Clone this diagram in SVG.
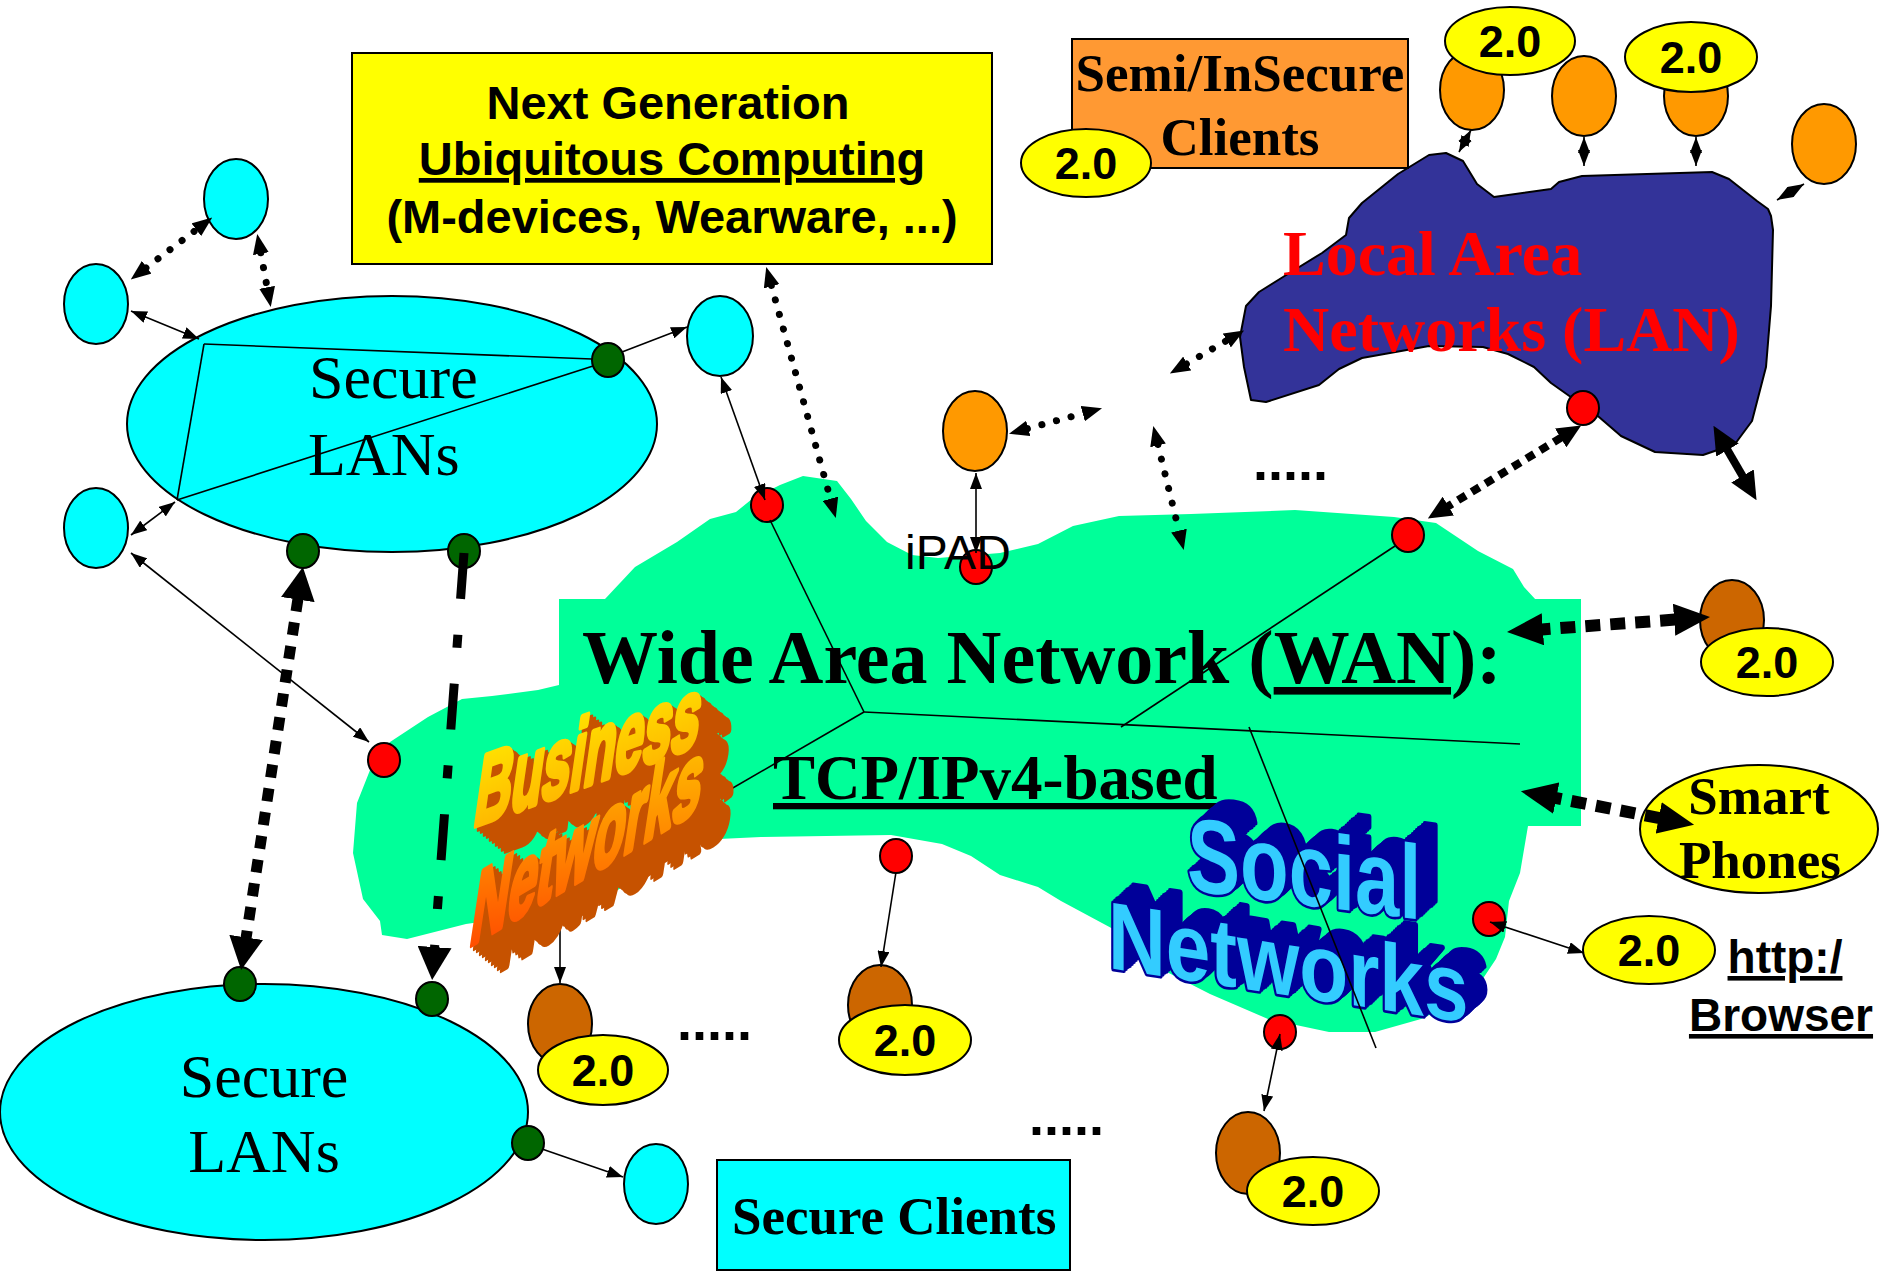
<svg xmlns="http://www.w3.org/2000/svg" width="1886" height="1272" viewBox="0 0 1886 1272">
<style>
.cy{fill:#00FFFF;stroke:#000;stroke-width:2}
.or{fill:#FF9900;stroke:#000;stroke-width:2}
.br{fill:#CC6600;stroke:#000;stroke-width:2}
.ye{fill:#FFFF00;stroke:#000;stroke-width:2}
.rd{fill:#FF0000;stroke:#000;stroke-width:2}
.gd{fill:#006600;stroke:#000;stroke-width:2}
.s{font-family:'Liberation Sans',Arial,sans-serif}
.t{font-family:'Liberation Serif','Times New Roman',serif}
.b{font-weight:bold}
.v{font-family:'Liberation Sans',Arial,sans-serif;font-weight:bold;font-size:45px;text-anchor:middle}
.m{text-anchor:middle}
.u{text-decoration:underline}
.ln{fill:none;stroke:#000;stroke-width:1.6}
.dt{fill:none;stroke:#000;stroke-width:7;stroke-linecap:round;stroke-dasharray:0.1 15}
.sq{fill:none;stroke:#000;stroke-width:8;stroke-dasharray:9 7}
.sqb{fill:none;stroke:#000;stroke-width:12;stroke-dasharray:15 10}
.thk{fill:none;stroke:#000;stroke-width:11;stroke-dasharray:13 11}
</style>
<defs>
<marker id="a1" viewBox="0 0 16 12" refX="16" refY="6" markerWidth="16" markerHeight="12" markerUnits="userSpaceOnUse" orient="auto-start-reverse"><path d="M0,0L16,6L0,12z"/></marker>
<marker id="a2" viewBox="0 0 20 16" refX="1" refY="8" markerWidth="20" markerHeight="16" markerUnits="userSpaceOnUse" orient="auto-start-reverse"><path d="M0,0L20,8L0,16z"/></marker>
<marker id="a3" viewBox="0 0 24 22" refX="1" refY="11" markerWidth="24" markerHeight="22" markerUnits="userSpaceOnUse" orient="auto-start-reverse"><path d="M0,0L24,11L0,22z"/></marker>
<marker id="a4" viewBox="0 0 36 32" refX="1" refY="16" markerWidth="36" markerHeight="32" markerUnits="userSpaceOnUse" orient="auto-start-reverse"><path d="M0,0L36,16L0,32z"/></marker>
<marker id="a5" viewBox="0 0 33 34" refX="1" refY="17" markerWidth="33" markerHeight="34" markerUnits="userSpaceOnUse" orient="auto-start-reverse"><path d="M0,0L33,17L0,34z"/></marker>
<marker id="a6" viewBox="0 0 28 26" refX="1" refY="13" markerWidth="28" markerHeight="26" markerUnits="userSpaceOnUse" orient="auto-start-reverse"><path d="M0,0L28,13L0,26z"/></marker>
<linearGradient id="gB" x1="0" y1="0" x2="0" y2="1"><stop offset="0" stop-color="#FFE800"/><stop offset="1" stop-color="#FFB000"/></linearGradient>
<linearGradient id="gN" x1="1" y1="0" x2="0" y2="1"><stop offset="0" stop-color="#FFD000"/><stop offset="1" stop-color="#FF4000"/></linearGradient>
<filter id="extO" x="-10%" y="-10%" width="135%" height="135%" color-interpolation-filters="sRGB">
<feOffset in="SourceAlpha" dx="3" dy="2.5" result="o1"/>
<feOffset in="SourceAlpha" dx="6" dy="5" result="o2"/>
<feOffset in="SourceAlpha" dx="9" dy="7.5" result="o3"/>
<feOffset in="SourceAlpha" dx="12" dy="10" result="o4"/>
<feOffset in="SourceAlpha" dx="15" dy="12.5" result="o5"/>
<feOffset in="SourceAlpha" dx="18" dy="15" result="o6"/>
<feOffset in="SourceAlpha" dx="21" dy="17.5" result="o7"/>
<feOffset in="SourceAlpha" dx="24" dy="20" result="o8"/>
<feOffset in="SourceAlpha" dx="27" dy="22.5" result="o9"/>
<feOffset in="SourceAlpha" dx="30" dy="25" result="o10"/>
<feMerge result="m"><feMergeNode in="o1"/><feMergeNode in="o2"/><feMergeNode in="o3"/><feMergeNode in="o4"/><feMergeNode in="o5"/><feMergeNode in="o6"/><feMergeNode in="o7"/><feMergeNode in="o8"/><feMergeNode in="o9"/><feMergeNode in="o10"/></feMerge>
<feFlood flood-color="#C65200"/>
<feComposite in2="m" operator="in" result="ext"/>
<feMerge><feMergeNode in="ext"/><feMergeNode in="SourceGraphic"/></feMerge>
</filter>
<filter id="extB" x="-10%" y="-25%" width="125%" height="135%" color-interpolation-filters="sRGB">
<feOffset in="SourceAlpha" dx="2" dy="-1.8" result="o1"/>
<feOffset in="SourceAlpha" dx="4" dy="-3.6" result="o2"/>
<feOffset in="SourceAlpha" dx="6" dy="-5.4" result="o3"/>
<feOffset in="SourceAlpha" dx="8" dy="-7.2" result="o4"/>
<feOffset in="SourceAlpha" dx="10" dy="-9" result="o5"/>
<feOffset in="SourceAlpha" dx="12" dy="-10.8" result="o6"/>
<feOffset in="SourceAlpha" dx="14" dy="-12.6" result="o7"/>
<feOffset in="SourceAlpha" dx="16" dy="-14.4" result="o8"/>
<feOffset in="SourceAlpha" dx="18" dy="-16.2" result="o9"/>
<feOffset in="SourceAlpha" dx="20" dy="-18" result="o10"/>
<feMerge result="m"><feMergeNode in="o1"/><feMergeNode in="o2"/><feMergeNode in="o3"/><feMergeNode in="o4"/><feMergeNode in="o5"/><feMergeNode in="o6"/><feMergeNode in="o7"/><feMergeNode in="o8"/><feMergeNode in="o9"/><feMergeNode in="o10"/></feMerge>
<feFlood flood-color="#000099"/>
<feComposite in2="m" operator="in" result="ext"/>
<feMerge><feMergeNode in="ext"/><feMergeNode in="SourceGraphic"/></feMerge>
</filter>
</defs>
<rect width="1886" height="1272" fill="#FFFFFF"/>

<g id="lan">
<path d="M1446,153 L1463,161 L1477,184 L1494,197 L1551,189 L1559,182 L1582,176 L1712,172 L1729,179 L1757,201 L1768,209 L1771,216 L1773,230 L1771,306 L1766,367 L1752,421 L1735,444 L1703,455 L1655,452 L1621,436 L1599,417 L1551,383 L1534,367 L1508,354 L1483,347 L1429,346 L1362,358 L1339,369 L1319,385 L1266,402 L1251,400 L1244,367 L1240,337 L1246,306 L1259,292 L1283,277 L1322,253 L1346,235 L1349,218 L1362,203 L1398,174 L1429,155 Z" fill="#333399" stroke="#000" stroke-width="2" stroke-linejoin="round"/>
<text class="t b" font-size="64" fill="#FF0000" x="1283" y="275">Local Area</text>
<text class="t b" font-size="64" fill="#FF0000" x="1283" y="351">Networks (LAN)</text>
</g>

<g id="wan">
<path d="M710,519 L736,512 L752,499 L780,485 L803,476 L837,481 L851,499 L866,521 L887,542 L912,555 L938,558 L1000,553 L1038,544 L1073,526 L1119,516 L1191,514 L1295,510 L1394,517 L1436,523 L1478,551 L1513,569 L1524,587 L1536,600 L1536,826 L1528,826 L1520,873 L1509,901 L1505,937 L1496,959 L1482,980 L1459,1001 L1421,1019 L1375,1032 L1329,1032 L1268,1019 L1210,994 L1161,969 L1115,930 L1061,901 L1038,887 L1000,875 L971,856 L942,844 L891,835 L761,837 L698,840 L592,906 L466,924 L407,939 L382,935 L380,921 L363,899 L353,853 L357,803 L374,760 L390,742 L428,717 L462,699 L492,696 L538,690 L559,685 L570,640 L605,599 L635,567 L677,542 Z" fill="#00FF99"/>
<rect x="559" y="599" width="1022" height="227" fill="#00FF99"/>
<text class="t b" font-size="76" x="582" y="683">Wide Area Network (<tspan class="u">WAN</tspan>):</text>
<text class="t b u" font-size="63" x="773" y="799">TCP/IPv4-based</text>
</g>

<g id="secure-lans-top">
<ellipse class="cy" cx="392" cy="424" rx="265" ry="128"/>
<text class="t" font-size="62" x="309" y="398">Secure</text>
<text class="t" font-size="62" x="308" y="475">LANs</text>
</g>
<g id="secure-lans-bottom">
<ellipse class="cy" cx="264" cy="1112" rx="264" ry="128"/>
<text class="t m" font-size="62" x="264" y="1097">Secure</text>
<text class="t m" font-size="62" x="264" y="1172">LANs</text>
</g>

<g id="social-networks" filter="url(#extB)">
<text class="s b" transform="matrix(0.78,0.099,0,1.03,1187,890)" font-size="102" fill="#33CCFF" stroke="#000099" stroke-width="5" paint-order="stroke" stroke-linejoin="round">Social</text>
<text class="s b" transform="matrix(0.88,0.134,0,1.05,1108,968)" font-size="91" fill="#33CCFF" stroke="#000099" stroke-width="5" paint-order="stroke" stroke-linejoin="round">Networks</text>
</g>

<g id="next-generation">
<rect x="352" y="53" width="640" height="211" fill="#FFFF00" stroke="#000" stroke-width="2"/>
<text class="s b m" font-size="47" x="668" y="119">Next Generation</text>
<text class="s b m u" font-size="47" x="672" y="175">Ubiquitous Computing</text>
<text class="s b m" font-size="47" x="672" y="233">(M-devices, Wearware, ...)</text>
</g>
<g id="semi-insecure">
<rect x="1072" y="39" width="336" height="129" fill="#FF9933" stroke="#000" stroke-width="2"/>
<text class="t b m" font-size="53" x="1240" y="91">Semi/InSecure</text>
<text class="t b m" font-size="53" x="1240" y="155">Clients</text>
</g>
<g id="secure-clients">
<rect x="717" y="1160" width="353" height="110" fill="#00FFFF" stroke="#000" stroke-width="2"/>
<text class="t b" font-size="53" x="732" y="1234">Secure Clients</text>
</g>

<g id="cyan-1"><ellipse class="cy" cx="236" cy="199" rx="32" ry="40"/></g>
<g id="cyan-2"><ellipse class="cy" cx="96" cy="304" rx="32" ry="40"/></g>
<g id="cyan-3"><ellipse class="cy" cx="96" cy="528" rx="32" ry="40"/></g>
<g id="cyan-4"><ellipse class="cy" cx="720" cy="336" rx="33" ry="40"/></g>
<g id="cyan-5"><ellipse class="cy" cx="656" cy="1184" rx="32" ry="40"/></g>

<g id="orange-1"><ellipse class="or" cx="1472" cy="90" rx="32" ry="40"/></g>
<g id="orange-2"><ellipse class="or" cx="1584" cy="96" rx="32" ry="40"/></g>
<g id="orange-3"><ellipse class="or" cx="1696" cy="96" rx="32" ry="40"/></g>
<g id="orange-4"><ellipse class="or" cx="1824" cy="144" rx="32" ry="40"/></g>
<g id="ipad-device"><ellipse class="or" cx="975" cy="431" rx="32" ry="40"/></g>

<g id="brown-1"><ellipse class="br" cx="1732" cy="620" rx="32" ry="40"/></g>
<g id="brown-2"><ellipse class="br" cx="560" cy="1024" rx="32" ry="40"/></g>
<g id="brown-3"><ellipse class="br" cx="880" cy="1005" rx="32" ry="40"/></g>
<g id="brown-4"><ellipse class="br" cx="1248" cy="1153" rx="32" ry="41"/></g>

<g id="v20-1"><ellipse class="ye" cx="1086" cy="163" rx="65" ry="34"/><text class="v" x="1086" y="179">2.0</text></g>
<g id="v20-2"><ellipse class="ye" cx="1510" cy="41" rx="65" ry="34"/><text class="v" x="1510" y="57">2.0</text></g>
<g id="v20-3"><ellipse class="ye" cx="1691" cy="57" rx="66" ry="35"/><text class="v" x="1691" y="73">2.0</text></g>
<g id="v20-4"><ellipse class="ye" cx="1767" cy="662" rx="66" ry="34"/><text class="v" x="1767" y="678">2.0</text></g>
<g id="v20-5"><ellipse class="ye" cx="603" cy="1070" rx="65" ry="35"/><text class="v" x="603" y="1086">2.0</text></g>
<g id="v20-6"><ellipse class="ye" cx="905" cy="1040" rx="66" ry="35"/><text class="v" x="905" y="1056">2.0</text></g>
<g id="v20-7"><ellipse class="ye" cx="1649" cy="950" rx="66" ry="34"/><text class="v" x="1649" y="966">2.0</text></g>
<g id="v20-8"><ellipse class="ye" cx="1313" cy="1191" rx="66" ry="34"/><text class="v" x="1313" y="1207">2.0</text></g>

<g id="smart-phones">
<ellipse class="ye" cx="1759" cy="829" rx="119" ry="64"/>
<text class="t b m" font-size="53" x="1759" y="814">Smart</text>
<text class="t b m" font-size="53" x="1760" y="878">Phones</text>
</g>
<g id="http-browser">
<text class="s b m u" font-size="46" x="1785" y="973">http:/</text>
<text class="s b m u" font-size="46" x="1781" y="1031">Browser</text>
</g>

<g id="green-dots">
<ellipse class="gd" cx="608" cy="360" rx="16" ry="17"/>
<ellipse class="gd" cx="303" cy="551" rx="16" ry="17"/>
<ellipse class="gd" cx="464" cy="551" rx="16" ry="17"/>
<ellipse class="gd" cx="240" cy="984" rx="16" ry="17"/>
<ellipse class="gd" cx="432" cy="999" rx="16" ry="17"/>
<ellipse class="gd" cx="528" cy="1143" rx="16" ry="17"/>
</g>
<g id="red-dots">
<ellipse class="rd" cx="767" cy="505" rx="16" ry="17"/>
<ellipse class="rd" cx="976" cy="567" rx="16" ry="17"/>
<ellipse class="rd" cx="1408" cy="535" rx="16" ry="17"/>
<ellipse class="rd" cx="384" cy="760" rx="16" ry="17"/>
<ellipse class="rd" cx="896" cy="856" rx="16" ry="17"/>
<ellipse class="rd" cx="1489" cy="919" rx="16" ry="17"/>
<ellipse class="rd" cx="1280" cy="1032" rx="16" ry="17"/>
<ellipse class="rd" cx="1583" cy="408" rx="16" ry="17"/>
</g>
<g id="ipad-label"><text class="s" font-size="48" x="905" y="569">iPAD</text></g>
<g id="ellipsis-marks">
<text class="s b" font-size="54" x="1253" y="480">.....</text>
<text class="s b" font-size="54" x="677" y="1040">.....</text>
<text class="s b" font-size="54" x="1029" y="1135">.....</text>
</g>

<g id="connectors">
<path class="ln" d="M204,344 L592,359"/>
<path class="ln" d="M204,344 L177,500"/>
<path class="ln" d="M177,500 L593,366"/>
<path class="ln" d="M770,520 L864,712"/>
<path class="ln" d="M864,712 L1520,744"/>
<path class="ln" d="M864,712 L719,796"/>
<path class="ln" d="M1395,546 L1121,727"/>
<path class="ln" d="M1249,727 L1376,1048"/>
<path class="ln" d="M199,339 L131,311" marker-start="url(#a1)" marker-end="url(#a1)"/>
<path class="ln" d="M175,502 L131,535" marker-start="url(#a1)" marker-end="url(#a1)"/>
<path class="ln" d="M622,352 L687,327" marker-end="url(#a1)"/>
<path class="ln" d="M131,553 L369,742" marker-start="url(#a1)" marker-end="url(#a1)"/>
<path class="ln" d="M765,500 L721,377" marker-start="url(#a1)" marker-end="url(#a1)"/>
<path class="ln" d="M976,473 L976,553" marker-start="url(#a1)" marker-end="url(#a1)"/>
<path class="ln" d="M896,872 L881,967" marker-end="url(#a1)"/>
<path class="ln" d="M560,924 L560,983" marker-end="url(#a1)"/>
<path class="ln" d="M1490,922 L1584,953" marker-start="url(#a1)" marker-end="url(#a1)"/>
<path class="ln" d="M1280,1034 L1264,1111" marker-start="url(#a1)" marker-end="url(#a1)"/>
<path class="ln" d="M542,1149 L623,1177" marker-end="url(#a1)"/>
<path class="ln" d="M1471,130 L1459,152" marker-start="url(#a1)" marker-end="url(#a1)"/>
<path class="ln" d="M1584,137 L1584,166" marker-start="url(#a1)" marker-end="url(#a1)"/>
<path class="ln" d="M1696,137 L1696,166" marker-start="url(#a1)" marker-end="url(#a1)"/>
<path class="ln" d="M1804,184 L1777,200" marker-start="url(#a1)" marker-end="url(#a1)"/>
<path class="dt" d="M145.9,267.9 L197.1,229.1" marker-start="url(#a2)" marker-end="url(#a2)"/>
<path class="dt" d="M260.7,252.7 L267.3,288.3" marker-start="url(#a2)" marker-end="url(#a2)"/>
<path class="dt" d="M771.3,285.3 L830.7,499.7" marker-start="url(#a2)" marker-end="url(#a2)"/>
<path class="dt" d="M1027.3,428.7 L1083.7,413.3" marker-start="url(#a2)" marker-end="url(#a2)"/>
<path class="dt" d="M1186.3,364 L1227.7,340" marker-start="url(#a2)" marker-end="url(#a2)"/>
<path class="dt" d="M1157.8,444.4 L1179.2,531.6" marker-start="url(#a2)" marker-end="url(#a2)"/>
<path class="sq" d="M1561.5,437.4 L1447.5,506.6" marker-start="url(#a3)" marker-end="url(#a3)"/>
<path class="sqb" d="M1675.1,619.6 L1541.9,629.4" marker-start="url(#a4)" marker-end="url(#a4)"/>
<path class="sqb" d="M1659.7,818.1 L1555.3,797.9" marker-start="url(#a4)" marker-end="url(#a4)"/>
<path class="thk" d="M298,598.6 L246,938.4" marker-start="url(#a5)" marker-end="url(#a5)"/>
<path fill="none" stroke="#000" stroke-width="8" d="M1727,449.2 L1743,476.8" marker-start="url(#a6)" marker-end="url(#a6)"/>
<path fill="none" stroke="#000" stroke-width="9" stroke-dasharray="46 36 13 36" d="M464,553 L434.5,948.1" marker-end="url(#a5)"/>
</g>

<g id="business-networks" filter="url(#extO)">
<text class="s b" transform="matrix(0.505,-0.184,-0.148,1.02,472,827)" font-size="100" fill="url(#gB)" stroke="url(#gB)" stroke-width="6" stroke-linejoin="round">Business</text>
<text class="s b" transform="matrix(0.487,-0.290,-0.155,1.02,468,947)" font-size="105" fill="url(#gN)" stroke="url(#gN)" stroke-width="6" stroke-linejoin="round">Networks</text>
</g>
</svg>
